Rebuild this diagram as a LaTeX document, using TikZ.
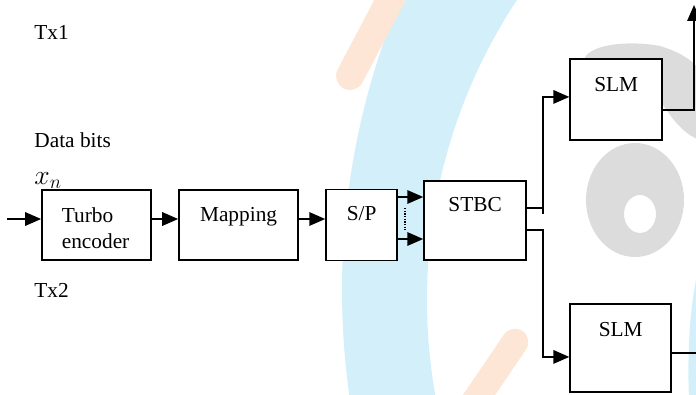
\documentclass[tikz,border=0pt]{standalone}
\usepackage{fontspec}
\setmainfont{Liberation Serif}
\usetikzlibrary{arrows.meta,positioning}
\definecolor{wmcyan}{HTML}{D3F0FA}
\definecolor{wmorange}{HTML}{FDE6D6}
\definecolor{wmgray}{HTML}{DCDCDC}
\tikzset{
    %Define standard arrow tip
    >={Triangle[length=12pt,width=10pt]},
    %Define style for boxes
    blockbox/.style={
             rectangle,
             draw=black, line width=1.25pt,
             fill=white,
             inner xsep=0pt, inner ysep=0pt,
             font=\fontsize{16}{20}\selectfont},
    notetext/.style={
             inner sep=0pt,
             anchor=base west,
             font=\fontsize{16}{20}\selectfont},
    % Define arrow style
    sigarrow/.style={
            ->,
            line width=1.6pt},
    sigline/.style={
            line width=1.5pt}
}
\begin{document}
\begin{tikzpicture}[x=0.75pt, y=-0.75pt]
 \useasboundingbox (0,0) rectangle (696,394);
 % watermark in the background
 \begin{scope}
  \clip (0,0) rectangle (696,394);
  \fill[wmcyan, even odd rule] (1096,290) circle[radius=754] (972,300) circle[radius=545];
  \fill[wmcyan] (700,262) .. controls (690,300) and (687,350) .. (689,400) -- (700,400) -- cycle;
  \draw[wmorange, line width=21pt, line cap=round] (350,76) -- (398,-15);
  \draw[wmorange, line width=20pt, line cap=round] (515,342) -- (462,420);
  \fill[wmgray, even odd rule] (635,200) ellipse[x radius=49, y radius=57] (640,214) ellipse[x radius=16, y radius=19];
  \fill[wmgray] (584,62) .. controls (584,44) and (630,40) .. (660,46) .. controls (680,52) and (692,60) .. (700,70)
        -- (700,140) .. controls (685,135) and (672,120) .. (660,100) -- (584,70) -- cycle;
 \end{scope}
 % blocks
 \node[blockbox, minimum width=81.75pt, text width=52pt, align=left, text height=24pt, text depth=28.5pt] (turbo) at (96.5,225) {Turbo\\encoder};
 \node[blockbox, minimum width=89.25pt, text height=23.25pt, text depth=29.25pt, right=19.8pt of turbo] (map) {Mapping};
 \node[blockbox, minimum width=53.25pt, text height=23.25pt, text depth=30pt, right=19.8pt of map] (sp) {S/P};
 \node[blockbox, minimum width=76.5pt, text height=23.25pt, text depth=36pt, right=19pt of sp, yshift=3.4pt] (stbc) {STBC};
 \node[blockbox, minimum width=69pt, text height=24.75pt, text depth=36pt, right=31.8pt of stbc, yshift=90.75pt] (slmA) {SLM};
 \node[blockbox, minimum width=75.75pt, text height=24.75pt, text depth=41.25pt, right=31.8pt of stbc, yshift=-95.6pt] (slmB) {SLM};
 % texts on the left
 \node[notetext] (tx1) at ([xshift=-5.25pt,yshift=112.5pt]turbo.north west) {Tx1};
 \node[notetext] (databits) at ([xshift=-5.25pt,yshift=31.5pt]turbo.north west) {Data bits};
 \node[notetext, font=\fontsize{21}{24}\selectfont] (xn) at ([xshift=-5.25pt,yshift=3.75pt]turbo.north west) {$x_n$};
 \node[notetext] (tx2) at ([xshift=-5.25pt,yshift=-27.75pt]turbo.south west) {Tx2};
 % connectors
 \coordinate (din) at ([xshift=-25.5pt,yshift=4.5pt]turbo.west);
 \coordinate (tx1out) at ([xshift=23.25pt,yshift=70.9pt]slmA.east);
 \coordinate (tx2out) at ([xshift=20pt,yshift=-3.75pt]slmB.east);
 \draw[sigarrow] (din) -- (din -| turbo.west);
 \draw[sigarrow] ([yshift=4.5pt]turbo.east) -- ([yshift=4.5pt]turbo.east -| map.west);
 \draw[sigarrow] ([yshift=4.5pt]map.east) -- ([yshift=4.5pt]map.east -| sp.west);
 \draw[sigarrow] ([yshift=21pt]sp.east) -- ([yshift=21pt]sp.east -| stbc.west);
 \draw[sigarrow] ([yshift=-10.5pt]sp.east) -- ([yshift=-10.5pt]sp.east -| stbc.west);
 \draw[line width=1.2pt, dash pattern=on 1pt off 1pt] ([xshift=5.25pt,yshift=12.75pt]sp.east) -- ([xshift=5.25pt,yshift=-3.75pt]sp.east);
 \draw[sigline] ([yshift=9.4pt]stbc.east) -- ++(12pt,0);
 \draw[sigarrow] ([xshift=12pt,yshift=4.9pt]stbc.east) |- ([yshift=1.9pt]slmA.west);
 \draw[sigarrow] ([yshift=-7.1pt]stbc.east) -- ++(12pt,0) |- ([yshift=-6.75pt]slmB.west);
 \draw[sigarrow] ([yshift=-7.9pt]slmA.east) -| (tx1out);
 \draw[sigline] ([yshift=-3.75pt]slmB.east) -- (tx2out);
\end{tikzpicture}
\end{document}
